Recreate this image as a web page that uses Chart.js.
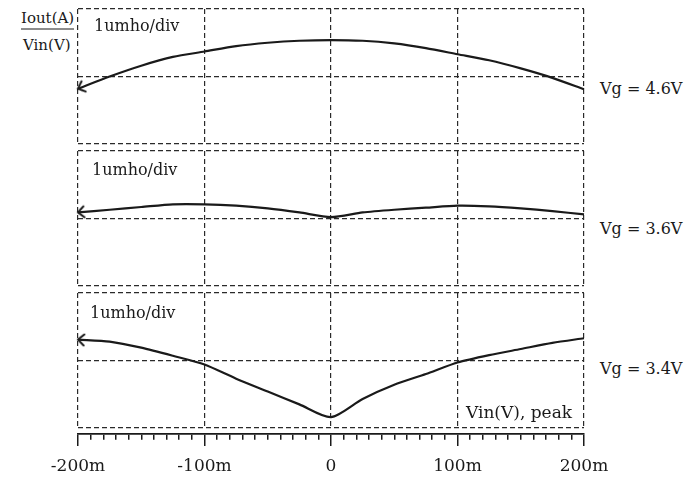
<!DOCTYPE html>
<html>
<head>
<meta charset="utf-8">
<script src="https://cdn.jsdelivr.net/npm/chart.js@4/dist/chart.umd.min.js"></script>
<style>
    body { margin: 0; background: #fff; }
    #wrap { position: relative; width: 688px; height: 481px; font-family: "DejaVu Serif", serif; color: #1a1a1a; }
    .box { position: absolute; }
    .lbl { position: absolute; white-space: nowrap; transform: translateY(-50%); line-height: 1; }
    .s15 { font-size: 15px; }
    .s16 { font-size: 16px; }
    .s17 { font-size: 17px; }
</style>
</head>
<body>
<div id="wrap">
    <div class="box" style="left:75px; top:6px; width:512px; height:141px;"><canvas id="panel1"></canvas></div>
    <div class="box" style="left:75px; top:148px; width:512px; height:141px;"><canvas id="panel2"></canvas></div>
    <div class="box" style="left:75px; top:290px; width:512px; height:141px;"><canvas id="panel3"></canvas></div>
    <div class="box" style="left:38px; top:391px; width:586px; height:86px;"><canvas id="axis"></canvas></div>

    <div class="lbl s15" style="left:21px; top:20px; padding-bottom:3px; border-bottom:1.3px solid #1a1a1a;">Iout(A)</div>
    <div class="lbl s15" style="left:23px; top:45px;">Vin(V)</div>

    <div class="lbl s16" style="left:94px; top:26px;">1umho/div</div>
    <div class="lbl s16" style="left:92px; top:170px;">1umho/div</div>
    <div class="lbl s16" style="left:90px; top:313px;">1umho/div</div>

    <div class="lbl s16" style="left:600px; top:89px;">Vg = 4.6V</div>
    <div class="lbl s16" style="left:600px; top:229px;">Vg = 3.6V</div>
    <div class="lbl s16" style="left:600px; top:369px;">Vg = 3.4V</div>

    <div class="lbl s17" style="left:466px; top:412px;">Vin(V), peak</div>
</div>

<script>
// Vin peak in mV
var vin = [-200, -175, -150, -125, -100, -75, -50, -25, 0, 25, 50, 75, 100, 125, 150, 175, 200];

// Iout/Vin in divisions above the panel bottom (1umho/div)
var gVg46 = [0.82, 1.00, 1.16, 1.29, 1.37, 1.45, 1.50, 1.53, 1.54, 1.53, 1.49, 1.42, 1.33, 1.24, 1.12, 0.98, 0.81];
var gVg36 = [1.09, 1.13, 1.17, 1.21, 1.21, 1.19, 1.15, 1.09, 1.02, 1.09, 1.13, 1.16, 1.19, 1.18, 1.15, 1.11, 1.06];
var gVg34 = [1.31, 1.28, 1.19, 1.07, 0.94, 0.73, 0.54, 0.35, 0.16, 0.43, 0.64, 0.80, 0.97, 1.08, 1.17, 1.26, 1.33];

var xTicks = [-200, -100, 0, 100, 200];

var ink = '#1a1a1a';
var gridInk = '#2a2a2a';

// open "<" arrow head, tip in the middle of the little canvas
function makeArrow() {
    var c = document.createElement('canvas');
    c.width = 26;
    c.height = 16;
    var g = c.getContext('2d');
    g.strokeStyle = ink;
    g.lineWidth = 2;
    g.lineCap = 'round';
    g.beginPath();
    g.moveTo(19, 2.5);
    g.lineTo(13, 8);
    g.lineTo(19, 13.5);
    g.stroke();
    return c;
}
var arrow = makeArrow();

function toPoints(values) {
    return vin.map(function (v, i) { return { x: v, y: values[i] }; });
}

function isMajor(v) {
    return xTicks.indexOf(v) !== -1;
}

function makePanel(id, values, arrowTilt) {
    var ctx = document.getElementById(id).getContext('2d');
    return new Chart(ctx, {
        type: 'line',
        data: {
            datasets: [{
                data: toPoints(values),
                borderColor: ink,
                borderWidth: 2.2,
                tension: 0.25,
                clip: false,
                pointRadius: function (c) { return c.dataIndex === 0 ? 6 : 0; },
                pointStyle: function (c) { return c.dataIndex === 0 ? arrow : 'circle'; },
                pointRotation: arrowTilt
            }]
        },
        options: {
            responsive: true,
            maintainAspectRatio: false,
            animation: false,
            events: [],
            layout: { padding: 3, autoPadding: false },
            plugins: { legend: { display: false }, tooltip: { enabled: false } },
            scales: {
                x: {
                    type: 'linear',
                    min: -200,
                    max: 200,
                    afterBuildTicks: function (axis) {
                        axis.ticks = xTicks.map(function (v) { return { value: v }; });
                    },
                    ticks: { display: false },
                    border: { display: false, dash: [5, 3] },
                    grid: { color: gridInk, lineWidth: 1.2, drawTicks: false }
                },
                y: {
                    min: 0,
                    max: 2,
                    ticks: { display: false, stepSize: 1 },
                    border: { display: false, dash: [5, 3] },
                    grid: { color: gridInk, lineWidth: 1.2, drawTicks: false }
                }
            }
        }
    });
}

makePanel('panel1', gVg46, -22);
makePanel('panel2', gVg36, -6);
makePanel('panel3', gVg34, 4);

// bottom axis: solid line with a tick every 10m, the 100m ones long and labelled
// (the chart area above it stays empty, the canvas is transparent)
new Chart(document.getElementById('axis').getContext('2d'), {
    type: 'line',
    data: { datasets: [{ data: [] }] },
    options: {
        responsive: true,
        maintainAspectRatio: false,
        animation: false,
        events: [],
        layout: { padding: { left: 40, right: 40, top: 0, bottom: 0 }, autoPadding: false },
        plugins: { legend: { display: false }, tooltip: { enabled: false } },
        scales: {
            x: {
                type: 'linear',
                position: 'bottom',
                min: -200,
                max: 200,
                ticks: {
                    stepSize: 10,
                    color: ink,
                    padding: 10,
                    maxRotation: 0,
                    autoSkip: false,
                    font: { family: '"DejaVu Serif", serif', size: 17 },
                    callback: function (v) {
                        if (!isMajor(v)) return '';
                        return v === 0 ? '0' : v + 'm';
                    }
                },
                border: { display: true, color: ink, width: 1.8 },
                grid: {
                    drawOnChartArea: false,
                    color: ink,
                    lineWidth: 1.5,
                    tickLength: 12,
                    tickBorderDash: function (c) {
                        return c.tick && isMajor(c.tick.value) ? [] : [5, 40];
                    }
                }
            },
            y: { display: false, min: 0, max: 1 }
        }
    }
});
</script>
</body>
</html>
